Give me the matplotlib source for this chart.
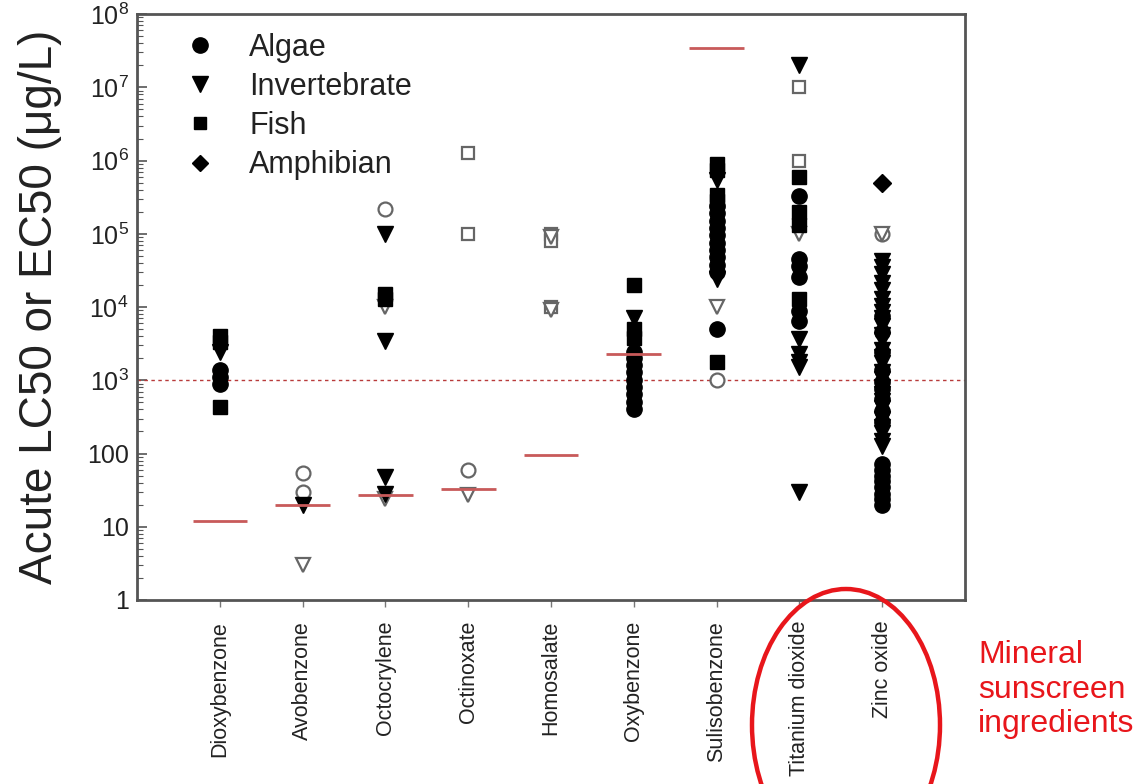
import matplotlib
matplotlib.use('Agg')
import matplotlib.pyplot as plt
from matplotlib.lines import Line2D
from matplotlib.patches import Ellipse
from matplotlib.ticker import FixedLocator, LogLocator, NullFormatter

plt.rcParams['font.family'] = ['Liberation Sans', 'DejaVu Sans']
plt.rcParams['mathtext.fontset'] = 'custom'
plt.rcParams['mathtext.rm'] = 'Liberation Sans'

categories = ['Dioxybenzone', 'Avobenzone', 'Octocrylene', 'Octinoxate', 'Homosalate',
              'Oxybenzone', 'Sulisobenzone', 'Titanium dioxide', 'Zinc oxide']

# filled symbols, one list per ingredient (ug/L)
algae = [[1400, 1100, 900], [], [], [], [],
         [2400, 2000, 1600, 1300, 1000, 800, 650, 500, 400],
         [240000, 190000, 150000, 120000, 95000, 75000, 60000, 48000, 38000, 30000, 5000],
         [330000, 45000, 36000, 26000, 8900, 6400],
         [7500, 4500, 2400, 1400, 950, 750, 560, 380, 270, 72, 60, 50, 42, 35, 28, 24, 20]]
invertebrate = [[2400], [20], [100000, 3400, 48, 28], [], [],
                [7000],
                [550000, 24000],
                [20000000, 3700, 2300, 1800, 1500, 30],
                [42000, 35000, 28000, 21000, 17000, 13000, 10500, 8500, 7000, 5500, 4200, 3500,
                 2600, 2100, 1700, 1300, 1050, 820, 650, 520, 420, 300, 230, 190, 150, 125]]
fish = [[4000, 3300, 430], [], [15000, 13000], [], [],
        [20000, 5000, 3800],
        [900000, 750000, 340000, 280000, 1800],
        [600000, 200000, 130000, 13000],
        []]
amphibian = [[], [], [], [], [], [], [], [], [500000]]

# open symbols
algae_open = [[], [55, 30], [220000], [60], [], [], [1000], [], [100000]]
invertebrate_open = [[], [3], [10000, 24], [27], [90000, 9000], [], [10000], [100000], [100000]]
fish_open = [[], [], [], [1250000, 100000], [100000, 80000, 10000], [], [], [10000000, 1000000], []]

# red bars per ingredient, None where absent
red_bar = [12, 20, 27, 33, 95, 2300, 35000000, None, None]
threshold = 1000

fig = plt.figure(figsize=(11.44, 7.84), dpi=100)
ax = fig.add_axes([0.1198, 0.2347, 0.7237, 0.7473])

x = range(1, len(categories) + 1)

open_style = dict(linestyle='none', markerfacecolor='white', markeredgecolor='#666666',
                  markeredgewidth=1.6, zorder=3)
for xi, vals in zip(x, algae_open):
    ax.plot([xi] * len(vals), vals, marker='o', markersize=10, **open_style)
for xi, vals in zip(x, fish_open):
    ax.plot([xi] * len(vals), vals, marker='s', markersize=9, **open_style)
for xi, vals in zip(x, invertebrate_open):
    ax.plot([xi] * len(vals), vals, marker='v', markersize=10, **open_style)

fill_style = dict(linestyle='none', color='black', zorder=4)
for xi, vals in zip(x, algae):
    ax.plot([xi] * len(vals), vals, marker='o', markersize=11, **fill_style)
for xi, vals in zip(x, fish):
    ax.plot([xi] * len(vals), vals, marker='s', markersize=10, **fill_style)
for xi, vals in zip(x, invertebrate):
    ax.plot([xi] * len(vals), vals, marker='v', markersize=12, **fill_style)
for xi, vals in zip(x, amphibian):
    ax.plot([xi] * len(vals), vals, marker='D', markersize=9, **fill_style)

for xi, v in zip(x, red_bar):
    if v is not None:
        ax.plot([xi - 0.33, xi + 0.33], [v, v], color='#c85a5a', lw=2, zorder=5, solid_capstyle='butt')

ax.axhline(threshold, color='#b83a3a', lw=1, linestyle=(0, (2.5, 2.5)), zorder=2)

ax.set_yscale('log')
ax.set_ylim(1, 1e8)
ax.set_xlim(0, 10)

yt = [1, 10, 100, 1e3, 1e4, 1e5, 1e6, 1e7, 1e8]
ylabels = ['1', '10', '100'] + [r'$10^{%d}$' % k for k in range(3, 9)]
ax.yaxis.set_major_locator(FixedLocator(yt))
ax.set_yticklabels(ylabels)
ax.yaxis.set_minor_locator(LogLocator(base=10, subs=range(2, 10), numticks=20))
ax.yaxis.set_minor_formatter(NullFormatter())
ax.tick_params(axis='y', which='major', direction='in', length=7, width=1.2, color='#555555',
               labelsize=18, pad=6, labelcolor='#222222')
ax.tick_params(axis='y', which='minor', direction='in', length=4, width=0.8, color='#555555')

ax.set_xticks(list(x))
ax.set_xticklabels(categories, rotation=90, fontsize=15.5, color='#222222')
ax.tick_params(axis='x', direction='out', length=5, width=1, color='#777777', pad=10)

for s in ax.spines.values():
    s.set_color('#555555')
    s.set_linewidth(2)

ax.set_ylabel('Acute LC50 or EC50 (\u03bcg/L)', fontsize=33, color='#222222', labelpad=18)

handles = [Line2D([], [], linestyle='none', marker='o', color='black', markersize=11),
           Line2D([], [], linestyle='none', marker='v', color='black', markersize=11),
           Line2D([], [], linestyle='none', marker='s', color='black', markersize=9),
           Line2D([], [], linestyle='none', marker='D', color='black', markersize=8)]
ax.legend(handles, ['Algae', 'Invertebrate', 'Fish', 'Amphibian'], loc='upper left',
          bbox_to_anchor=(0.058, 0.968), frameon=False, fontsize=22, borderpad=0,
          borderaxespad=0, handlelength=1, handletextpad=1.1, labelspacing=0.3,
          labelcolor='#222222')

ell = Ellipse((846 / 1144, 1 - 725 / 784), 188 / 1144, 272 / 784, transform=fig.transFigure,
              fill=False, edgecolor='#e8161b', lw=3.2, clip_on=False)
fig.add_artist(ell)
fig.text(978 / 1144, 1 - 640 / 784, 'Mineral\nsunscreen\ningredients', color='#e8161b',
         fontsize=23, va='top', ha='left', linespacing=1.2)

fig.savefig('out.png', dpi=100)
